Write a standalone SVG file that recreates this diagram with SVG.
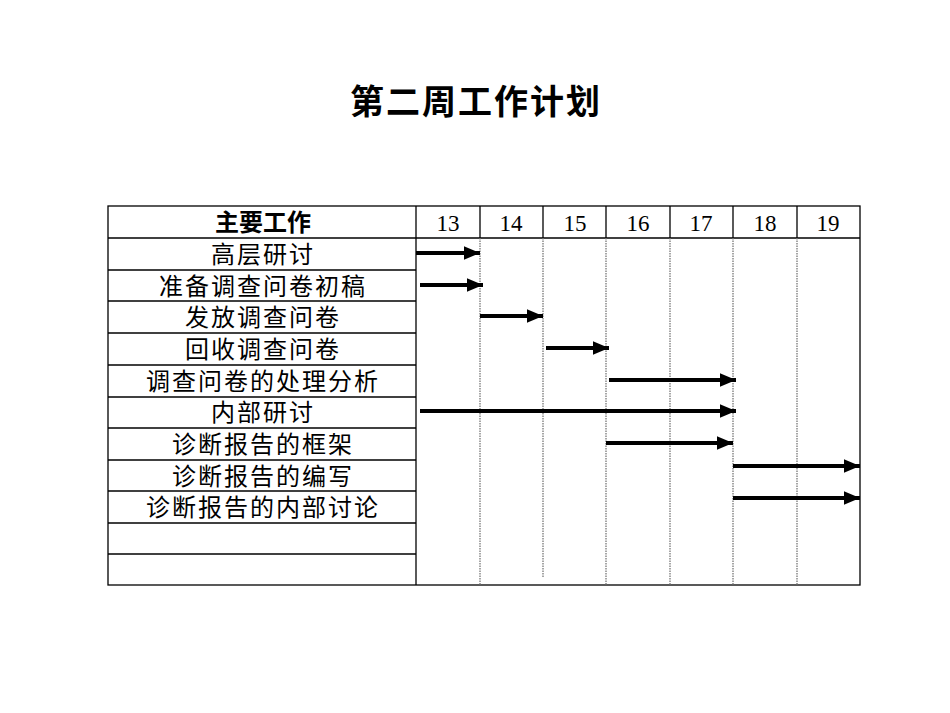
<svg xmlns="http://www.w3.org/2000/svg" width="950" height="713" viewBox="0 0 950 713">
<style>
text{font-family:"Liberation Serif","Noto Sans CJK SC",serif;fill:#000;text-anchor:middle}
.t{font-size:24px;letter-spacing:2px}
.h{font-size:23px}
.g{stroke:#000;stroke-width:1.3;fill:none}
.d{stroke:#777;stroke-width:1.3;stroke-dasharray:1.5 1}
.a{stroke:#000;stroke-width:4;marker-end:url(#ah)}
</style>
<defs><marker id="ah" markerWidth="4" markerHeight="3.4" refX="4" refY="1.7" orient="auto" markerUnits="strokeWidth"><path d="M0,0L4,1.7L0,3.4z" fill="#000"/></marker></defs>
<rect width="950" height="713" fill="#fff"/>
<text x="476" y="114" style="font-size:34px;font-weight:bold;letter-spacing:2px">第二周工作计划</text>
<g id="grid">
<rect class="g" x="108" y="206" width="752" height="379"/>
<line class="g" x1="416" y1="206" x2="416" y2="585"/>
<line class="g" x1="108" y1="238" x2="860" y2="238"/>
<g stroke="#000" stroke-width="1.3">
<line x1="108" y1="270" x2="416" y2="270"/><line x1="108" y1="301" x2="416" y2="301"/><line x1="108" y1="333" x2="416" y2="333"/><line x1="108" y1="365" x2="416" y2="365"/><line x1="108" y1="397" x2="416" y2="397"/><line x1="108" y1="428" x2="416" y2="428"/><line x1="108" y1="460" x2="416" y2="460"/><line x1="108" y1="491" x2="416" y2="491"/><line x1="108" y1="523" x2="416" y2="523"/><line x1="108" y1="554" x2="416" y2="554"/>
<line x1="480" y1="206" x2="480" y2="238"/><line x1="543" y1="206" x2="543" y2="238"/><line x1="606" y1="206" x2="606" y2="238"/><line x1="670" y1="206" x2="670" y2="238"/><line x1="733" y1="206" x2="733" y2="238"/><line x1="797" y1="206" x2="797" y2="238"/>
</g>
<line class="d" x1="480" y1="238" x2="480" y2="585"/><line class="d" x1="543" y1="238" x2="543" y2="578"/><line class="d" x1="606" y1="238" x2="606" y2="585"/><line class="d" x1="670" y1="238" x2="670" y2="585"/><line class="d" x1="733" y1="238" x2="733" y2="585"/><line class="d" x1="797" y1="238" x2="797" y2="585"/>
</g>
<g id="header">
<text x="263" y="231" style="font-size:24px;font-weight:bold">主要工作</text>
<text class="h" x="448" y="231">13</text><text class="h" x="511" y="231">14</text><text class="h" x="575" y="231">15</text><text class="h" x="638" y="231">16</text><text class="h" x="701" y="231">17</text><text class="h" x="765" y="231">18</text><text class="h" x="828" y="231">19</text>
</g>
<g id="tasks">
<text class="t" x="263" y="263">高层研讨</text>
<text class="t" x="263" y="295">准备调查问卷初稿</text>
<text class="t" x="263" y="326">发放调查问卷</text>
<text class="t" x="263" y="358">回收调查问卷</text>
<text class="t" x="263" y="390">调查问卷的处理分析</text>
<text class="t" x="263" y="421">内部研讨</text>
<text class="t" x="263" y="453">诊断报告的框架</text>
<text class="t" x="263" y="485">诊断报告的编写</text>
<text class="t" x="263" y="516">诊断报告的内部讨论</text>
</g>
<g id="connectors">
<line class="a" x1="416" y1="253" x2="480" y2="253"/>
<line class="a" x1="420" y1="285" x2="483" y2="285"/>
<line class="a" x1="480" y1="316" x2="543" y2="316"/>
<line class="a" x1="546" y1="348" x2="609" y2="348"/>
<line class="a" x1="609" y1="380" x2="736" y2="380"/>
<line class="a" x1="420" y1="411" x2="736" y2="411"/>
<line class="a" x1="606" y1="443" x2="733" y2="443"/>
<line class="a" x1="733" y1="466" x2="860" y2="466"/>
<line class="a" x1="733" y1="498" x2="860" y2="498"/>
</g>
</svg>
